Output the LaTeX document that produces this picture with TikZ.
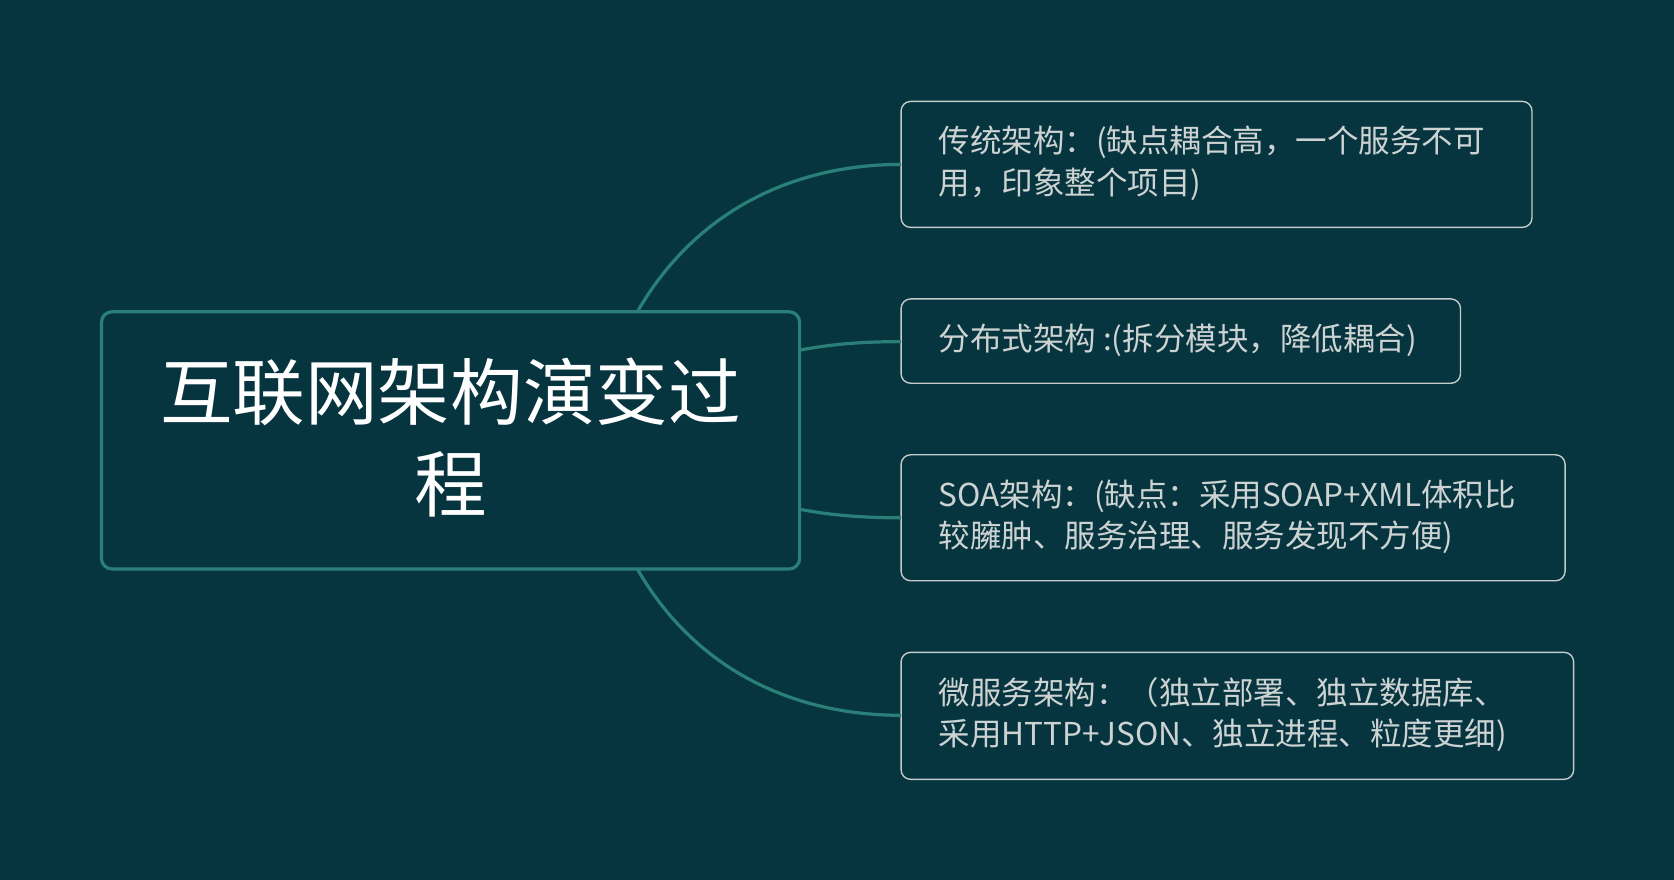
\documentclass[tikz,border=0pt]{standalone}
\usepackage{fontspec}
\setmainfont{Noto Sans CJK SC}
\definecolor{bg}{HTML}{06353F}
\definecolor{teal}{HTML}{2A8079}
\definecolor{lgray}{HTML}{C3CBCB}
\definecolor{tgray}{HTML}{CDD3D3}
\begin{document}
\begin{tikzpicture}[x=1pt,y=-1pt,
  leaf/.style={draw=lgray,line width=1.3pt,rounded corners=9pt,anchor=north west,inner sep=0pt},
  ltext/.style={anchor=north west,text=tgray,font=\fontsize{29.5}{39}\selectfont,align=left,inner sep=0pt},
  conn/.style={draw=teal,line width=3pt}]
\fill[bg] (0,0) rectangle (1568,824);
\useasboundingbox (0,0) rectangle (1568,824);
\draw[draw=teal,line width=3pt,rounded corners=10pt] (95,292) rectangle (749,533);
\node[text=white,font=\fontsize{68}{86}\selectfont,align=center] (main) at (422,410) {互联网架构演变过\\程};
\coordinate (m1) at (597,292);
\coordinate (m2) at (749,328);
\coordinate (m3) at (749,477);
\coordinate (m4) at (597,533);
\draw[leaf] (844,95) rectangle (1435,213);
\draw[leaf] (844,280) rectangle (1368,359);
\draw[leaf] (844,426) rectangle (1466,544);
\draw[leaf] (844,611) rectangle (1474,730);
\coordinate (b1) at (844,154);
\coordinate (b2) at (844,320);
\coordinate (b3) at (844,485);
\coordinate (b4) at (844,670);
\node[ltext] (t1) at (879,118) {传统架构：(缺点耦合高，一个服务不可\\用，印象整个项目)};
\node[ltext] (t2) at (879,303) {分布式架构 :(拆分模块，降低耦合)};
\node[ltext] (t3) at (879,449) {SOA架构：(缺点：采用SOAP+XML体积比\\较臃肿、服务治理、服务发现不方便)};
\node[ltext] (t4) at (879,634) {微服务架构：（独立部署、独立数据库、\\采用HTTP+JSON、独立进程、粒度更细)};
\draw[conn] (m1) .. controls (650,200) and (740,154) .. (b1);
\draw[conn] (m2) .. controls (780,322) and (810,320) .. (b2);
\draw[conn] (m3) .. controls (780,483) and (810,485) .. (b3);
\draw[conn] (m4) .. controls (650,625) and (740,670) .. (b4);
\end{tikzpicture}
\end{document}
